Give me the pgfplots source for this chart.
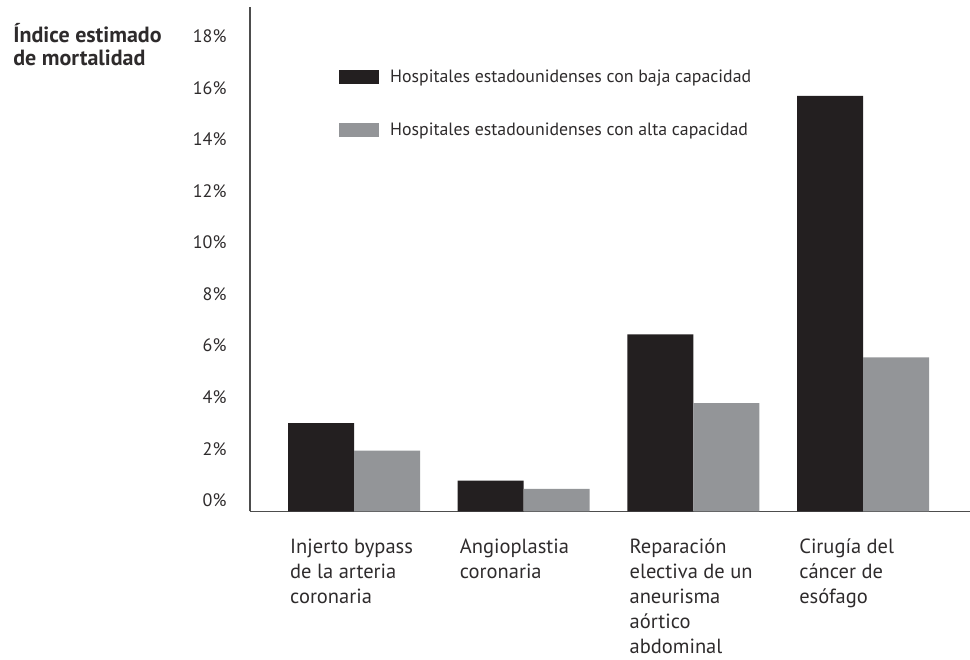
\documentclass[border=0pt]{standalone}
\usepackage{pgfplots}
\pgfplotsset{compat=1.18}
\usepackage{fontspec}
\setmainfont{PT Sans}
\definecolor{barblack}{HTML}{231F20}
\definecolor{bargray}{HTML}{939598}
\definecolor{axisgray}{HTML}{4D4D4D}
\definecolor{txt}{HTML}{2E2B2C}

\begin{document}
\begin{tikzpicture}[x=1pt,y=1pt]
\useasboundingbox (0,0) rectangle (970,660);
\begin{axis}[
  at={(250pt,148.5pt)}, anchor=south west,
  scale only axis, width=720pt, height=504.5pt,
  % the horizontal axis line sits a little below the 0% mark
  y coord trafo/.code={\pgfmathparse{#1+0.43}},
  y coord inv trafo/.code={\pgfmathparse{#1-0.43}},
  ymin=-0.43, ymax=19.13,
  xmin=-0.613, xmax=3.63,
  axis lines*=left,
  axis line style={axisgray, line width=1.6pt},
  major tick length=0pt,
  ytick={0,2,4,6,8,10,12,14,16,18},
  yticklabels={0\%,2\%,4\%,6\%,8\%,10\%,12\%,14\%,16\%,18\%},
  yticklabel style={font=\fontsize{18}{20}\selectfont, text=txt, xshift=-20pt},
  xtick={0,1,2,3},
  xticklabels={
    Injerto bypass\\de la arteria\\coronaria,
    Angioplastia\\coronaria,
    Reparación\\electiva de un\\aneurisma\\aórtico\\abdominal,
    Cirugía del\\cáncer de\\esófago},
  xticklabel style={font=\fontsize{20.5}{25}\selectfont, text=txt, anchor=north west,
    align=left, inner sep=0pt, xshift=-64pt, yshift=-27pt},
  ybar=0pt, bar width=66pt,
  ylabel={\bfseries Índice estimado\\\bfseries de mortalidad},
  ylabel style={rotate=-90, anchor=north west, align=left, inner sep=0pt,
    font=\fontsize{22}{23}\selectfont, text=txt,
    at={(axis description cs:-0.329,0.968)}},
  legend style={draw=none, fill=none, at={(axis description cs:0.1236,0.875)},
    anchor=north west, inner sep=0pt, font=\fontsize{17.8}{20}\selectfont,
    text=txt, row sep=39pt,
    nodes={inner sep=0pt, anchor=west}},
  legend cell align=left,
  legend image code/.code={\fill[#1] (0pt,-7pt) rectangle (40pt,7pt); \path (51pt,0pt);},
  clip=false,
]
\addplot[fill=barblack, draw=none] coordinates {(0,3.0) (1,0.77) (2,6.44) (3,15.68)};
\addplot[fill=bargray, draw=none] coordinates {(0,1.93) (1,0.45) (2,3.77) (3,5.55)};
\legend{Hospitales estadounidenses con baja capacidad,
        Hospitales estadounidenses con alta capacidad}
\end{axis}
\end{tikzpicture}
\end{document}
